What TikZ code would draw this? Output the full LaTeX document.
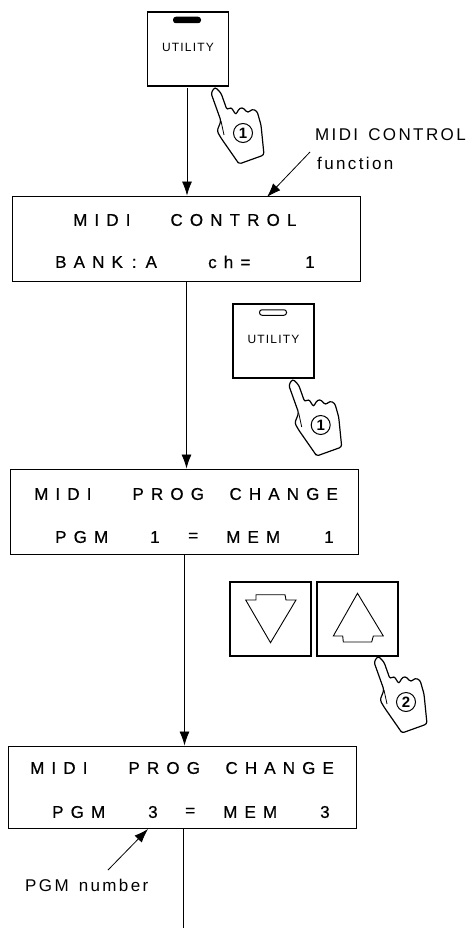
\documentclass[tikz,border=0pt]{standalone}
\usepackage{fontspec}
\setmainfont{Liberation Sans}
\usetikzlibrary{arrows.meta}
\tikzset{
  lcdbox/.style={draw, line width=0.9pt, minimum width=348pt, minimum height=85pt, inner sep=0pt},
  lcdtext/.style={anchor=west, inner sep=0pt, font=\fontsize{17}{19}\selectfont\addfontfeature{LetterSpace=42,FakeBold=0.6}},
  notetext/.style={anchor=west, inner sep=0pt, font=\fontsize{17}{19}\selectfont\addfontfeature{LetterSpace=14}},
  keybox/.style={draw, line width=1.7pt, minimum width=81pt, minimum height=74pt, inner sep=0pt, text depth=3pt,
    font=\fontsize{12}{14}\selectfont\addfontfeature{LetterSpace=10}},
  keyslot/.style={draw, line width=1pt, rounded corners=2.5pt, minimum width=27pt, minimum height=5.5pt, inner sep=0pt},
  flow/.style={line width=0.8pt, -{Latex[length=14pt,width=10pt]}},
  pics/presshand/.style={code={
    \draw[line width=1.2pt, fill=white, rounded corners=2.5pt]
      (0,-1) -- (-4,5) -- (6,33) -- (2,43) -- (6,50) -- (22,73) -- (24,76) -- (49,67)
      -- (46,37) -- (42,23) -- (37,21) -- (33,25) -- (27,19) -- (23,22) -- (21,27)
      -- (16,19) -- (12,22) -- (6,5) -- cycle;
    \draw[line width=0.8pt] (6,33) -- (9,47);
    \node[draw, circle, line width=1pt, minimum size=19pt, inner sep=0pt, font=\fontsize{15}{17}\selectfont\bfseries] at (28,45) {#1};
  }}
}
\begin{document}
\begin{tikzpicture}[x=1pt, y=-1pt]
  \useasboundingbox (0,0) rectangle (471,931);
  % displays
  \node[lcdbox] (ctrlbox) at (186.5,238.5) {};
  \node[lcdbox] (progbox) at (184.5,511.5) {};
  \node[lcdbox, minimum height=82pt] (pgmbox) at (182,787) {};
  \node[lcdtext] (ctrltop) at (73,220) {MIDI\hspace{40pt}CONTROL};
  \node[lcdtext] (ctrlbank) at (55,262) {BANK\hspace{9pt}:\hspace{9pt}A};
  \node[lcdtext] (ctrlch) at (208,262) {ch=};
  \node[lcdtext] (ctrlval) at (305,262) {1};
  \node[lcdtext] (progtop) at (34,494) {MIDI\hspace{41pt}PROG\hspace{25.5pt}CHANGE};
  \node[lcdtext] (progpgm) at (55,537) {PGM};
  \node[lcdtext] (progone) at (150,537) {1};
  \node[lcdtext] (progeq) at (188,537) {=};
  \node[lcdtext] (progmem) at (226,537) {MEM};
  \node[lcdtext] (progval) at (324,537) {1};
  \node[lcdtext] (pgmtop) at (30,768) {MIDI\hspace{41pt}PROG\hspace{25.5pt}CHANGE};
  \node[lcdtext] (pgmpgm) at (52,812) {PGM};
  \node[lcdtext] (pgmthree) at (148,812) {3};
  \node[lcdtext] (pgmeq) at (185,812) {=};
  \node[lcdtext] (pgmmem) at (223,812) {MEM};
  \node[lcdtext] (pgmval) at (320,812) {3};
  % keys
  \node[keybox] (utilone) at (188,49) {UTILITY};
  \node[keyslot, fill=black] (slotone) at (187,20) {};
  \node[keybox] (utiltwo) at (273.5,341) {UTILITY};
  \node[keyslot] (slottwo) at (273,312.5) {};
  \node[keybox] (keydown) at (270.5,619) {};
  \node[keybox] (keyup) at (357.5,619) {};
  \draw[line width=0.9pt, shift={(keydown.center)}] (-24.8,-19) -- (-14.5,-19) -- (-14.5,-24.3) -- (14.5,-24.3)
    -- (15.5,-19) -- (25.5,-19) -- (0,23.7) -- cycle;
  \draw[line width=0.9pt, shift={(keyup.center)}] (0,-25.7) -- (25.8,17) -- (15.8,17) -- (14.2,23)
    -- (-14.2,23) -- (-14.8,17) -- (-24.2,17) -- cycle;
  % hands
  \pic at (215,88) {presshand={1}};
  \pic at (292.7,380) {presshand={1}};
  \pic at (378,657) {presshand={2}};
  % notes
  \node[notetext] (ctrlnote) at (315,135) {MIDI\hspace{3pt} CONTROL};
  \node[notetext] (funcnote) at (317,163) {function};
  \node[notetext] (pgmnote) at (25,885) {PGM\hspace{3pt} number};
  \coordinate (ctrlfrom) at (310,152);
  \coordinate (ctrltip) at (267,197);
  \coordinate (pgmfrom) at (108,870);
  \coordinate (pgmtip) at (148,829);
  \coordinate (flowend) at (183,928);
  \coordinate (flowstart) at (187,88);
  % connectors
  \draw[flow] (flowstart) -- (flowstart |- ctrlbox.north);
  \draw[flow] (ctrlbox.south) -- (ctrlbox.south |- progbox.north);
  \draw[flow] (progbox.south) -- (progbox.south |- pgmbox.north);
  \draw[line width=0.8pt] (pgmbox.south -| flowend) -- (flowend);
  \draw[flow] (ctrlfrom) -- (ctrltip);
  \draw[flow] (pgmfrom) -- (pgmtip);
\end{tikzpicture}
\end{document}
